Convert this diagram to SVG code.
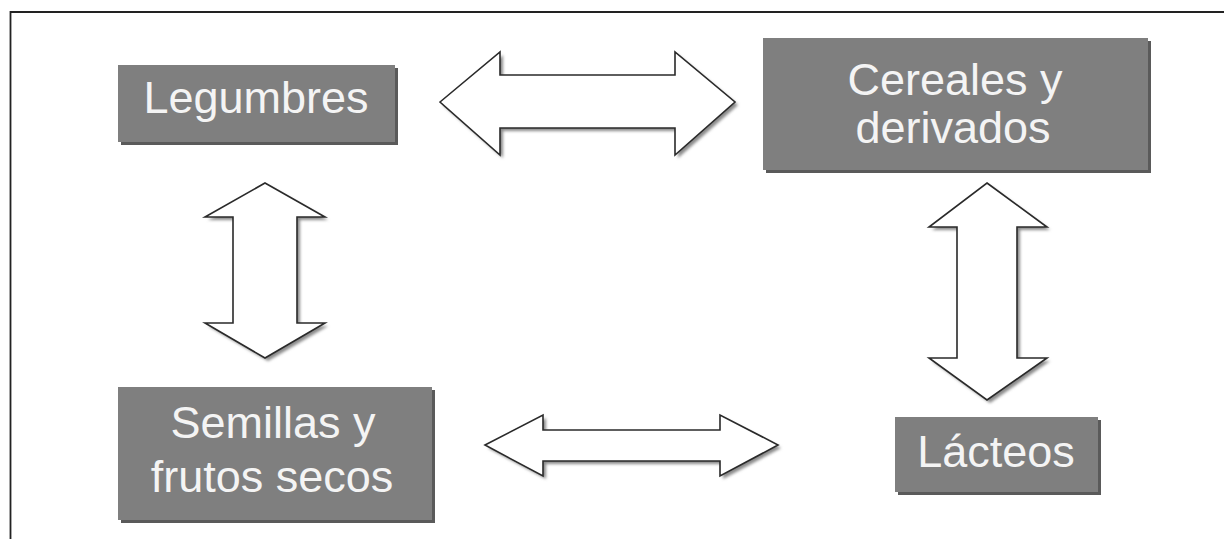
<svg xmlns="http://www.w3.org/2000/svg" width="1224" height="539" viewBox="0 0 1224 539">
<style>
.box{fill:#7f7f7f}
.shadow{fill:#5a5a5a}
.lbl{font-family:"Liberation Sans",Arial,sans-serif;font-size:45px;fill:#f4f4f4;text-anchor:middle}
.arr{fill:#ffffff;stroke:#2a2a2a;stroke-width:1.6;stroke-linejoin:miter}
.arrsh{fill:#8a8a8a;filter:url(#blur)}
.frame{fill:none;stroke:#222;stroke-width:1.8}
</style>
<defs>
<filter id="blur" x="-10%" y="-10%" width="130%" height="130%"><feGaussianBlur stdDeviation="1.6"/></filter>
</defs>
<rect width="1224" height="539" fill="#ffffff"/>
<path class="frame" d="M10.5,539 L10.5,12 L1224,12"/>
<g id="connectors">
<g id="arrow-top">
<path class="arrsh" transform="translate(3,3)" d="M440,102 L500,52 L500,75 L675,75 L675,52 L735,102 L675,155 L675,128 L500,128 L500,155 Z"/>
<path class="arr" d="M440,102 L500,52 L500,75 L675,75 L675,52 L735,102 L675,155 L675,128 L500,128 L500,155 Z"/>
</g>
<g id="arrow-left">
<path class="arrsh" transform="translate(3,3)" d="M265,183 L325,217 L297,217 L297,323 L325,323 L265,358 L205,323 L233,323 L233,217 L205,217 Z"/>
<path class="arr" d="M265,183 L325,217 L297,217 L297,323 L325,323 L265,358 L205,323 L233,323 L233,217 L205,217 Z"/>
</g>
<g id="arrow-right">
<path class="arrsh" transform="translate(3,3)" d="M987,183 L1047,227 L1017,227 L1017,358 L1047,358 L987,400 L929,358 L957,358 L957,227 L929,227 Z"/>
<path class="arr" d="M987,183 L1047,227 L1017,227 L1017,358 L1047,358 L987,400 L929,358 L957,358 L957,227 L929,227 Z"/>
</g>
<g id="arrow-bottom">
<path class="arrsh" transform="translate(3,3)" d="M485,445 L543,415 L543,430 L720,430 L720,415 L778,445 L720,476 L720,461 L543,461 L543,476 Z"/>
<path class="arr" d="M485,445 L543,415 L543,430 L720,430 L720,415 L778,445 L720,476 L720,461 L543,461 L543,476 Z"/>
</g>
</g>
<g id="legumbres">
<rect class="shadow" x="121" y="68" width="277" height="77"/>
<rect class="box" x="118" y="65" width="277" height="77"/>
<text class="lbl" x="256" y="113">Legumbres</text>
</g>
<g id="cereales">
<rect class="shadow" x="766" y="41" width="385" height="132"/>
<rect class="box" x="763" y="38" width="385" height="132"/>
<text class="lbl" x="955" y="95">Cereales y</text>
<text class="lbl" x="953" y="143">derivados</text>
</g>
<g id="semillas">
<rect class="shadow" x="121" y="390" width="314" height="133"/>
<rect class="box" x="118" y="387" width="314" height="133"/>
<text class="lbl" x="273" y="438">Semillas y</text>
<text class="lbl" x="272" y="492">frutos secos</text>
</g>
<g id="lacteos">
<rect class="shadow" x="898" y="420" width="203" height="75"/>
<rect class="box" x="895" y="417" width="203" height="75"/>
<text class="lbl" x="996" y="467">Lácteos</text>
</g>
</svg>
